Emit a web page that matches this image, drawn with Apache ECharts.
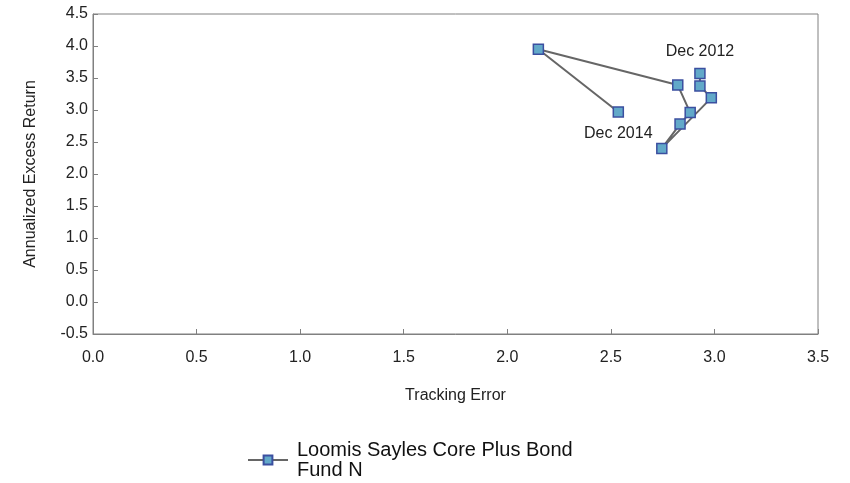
<!DOCTYPE html>
<html>
<head>
<meta charset="utf-8">
<script src="https://cdn.jsdelivr.net/npm/echarts@6/dist/echarts.min.js"></script>
<style>
  html, body { margin: 0; padding: 0; background: #fff; }
  #chart { width: 850px; height: 483px; }
</style>
</head>
<body>
<div id="chart"></div>
<script>
// Rolling quarterly risk/return path, Dec 2012 through Dec 2014
const seriesName = 'Loomis Sayles Core Plus Bond\nFund N';
const periods = ['Dec 2012', 'Mar 2013', 'Jun 2013', 'Sep 2013', 'Dec 2013',
                 'Mar 2014', 'Jun 2014', 'Sep 2014', 'Dec 2014'];
const trackingError = [2.93, 2.93, 2.985, 2.746, 2.834, 2.883, 2.823, 2.150, 2.536];
const excessReturn  = [3.57, 3.375, 3.19, 2.40, 2.78, 2.96, 3.39, 3.95, 2.97];
const labelledPeriods = { 'Dec 2012': 'top', 'Dec 2014': 'bottom' };

const FONT = "'Liberation Sans', Arial, sans-serif";

const points = periods.map((p, i) => {
  const item = { value: [trackingError[i], excessReturn[i]], name: p };
  if (labelledPeriods[p]) {
    item.label = { show: true, position: labelledPeriods[p], distance: 8 };
  }
  return item;
});

const chart = echarts.init(document.getElementById('chart'), null, { renderer: 'canvas' });
chart.setOption({
  animation: false,
  backgroundColor: '#ffffff',
  grid: { left: 93, top: 14, right: 32, bottom: 149, show: true, borderColor: '#808080', borderWidth: 1, backgroundColor: 'transparent' },
  xAxis: {
    type: 'value', min: 0, max: 3.5, interval: 0.5,
    name: 'Tracking Error', nameLocation: 'middle', nameGap: 54,
    nameTextStyle: { fontFamily: FONT, fontSize: 16, color: '#222' },
    axisLine: { show: true, onZero: false, lineStyle: { color: '#808080' } },
    axisTick: { show: true, inside: true, length: 5, lineStyle: { color: '#808080' } },
    axisLabel: { fontFamily: FONT, fontSize: 16, color: '#222', margin: 16, formatter: v => v.toFixed(1) },
    splitLine: { show: false }
  },
  yAxis: {
    type: 'value', min: -0.5, max: 4.5, interval: 0.5,
    name: 'Annualized Excess Return', nameLocation: 'middle', nameGap: 54, nameRotate: 90,
    nameTextStyle: { fontFamily: FONT, fontSize: 16, color: '#222' },
    axisLine: { show: true, onZero: false, lineStyle: { color: '#808080' } },
    axisTick: { show: true, inside: true, length: 5, lineStyle: { color: '#808080' } },
    axisLabel: { fontFamily: FONT, fontSize: 16, color: '#222', margin: 5, formatter: v => v.toFixed(1) },
    splitLine: { show: false }
  },
  legend: {
    left: 247, top: 440, padding: 0, itemWidth: 40, itemHeight: 11, itemGap: 10,
    textStyle: { fontFamily: FONT, fontSize: 20, color: '#111', lineHeight: 20, padding: [0, 0, 0, 4] },
    data: [{ name: seriesName }]
  },
  series: [{
    name: seriesName,
    type: 'line',
    data: points,
    symbol: 'rect', symbolSize: 10,
    lineStyle: { color: '#666666', width: 2 },
    itemStyle: { color: '#62a9c9', borderColor: '#3b4fa0', borderWidth: 1.5 },
    label: { fontFamily: FONT, fontSize: 16, color: '#222', formatter: p => p.name },
    emphasis: { disabled: true }
  }]
});
</script>
</body>
</html>
